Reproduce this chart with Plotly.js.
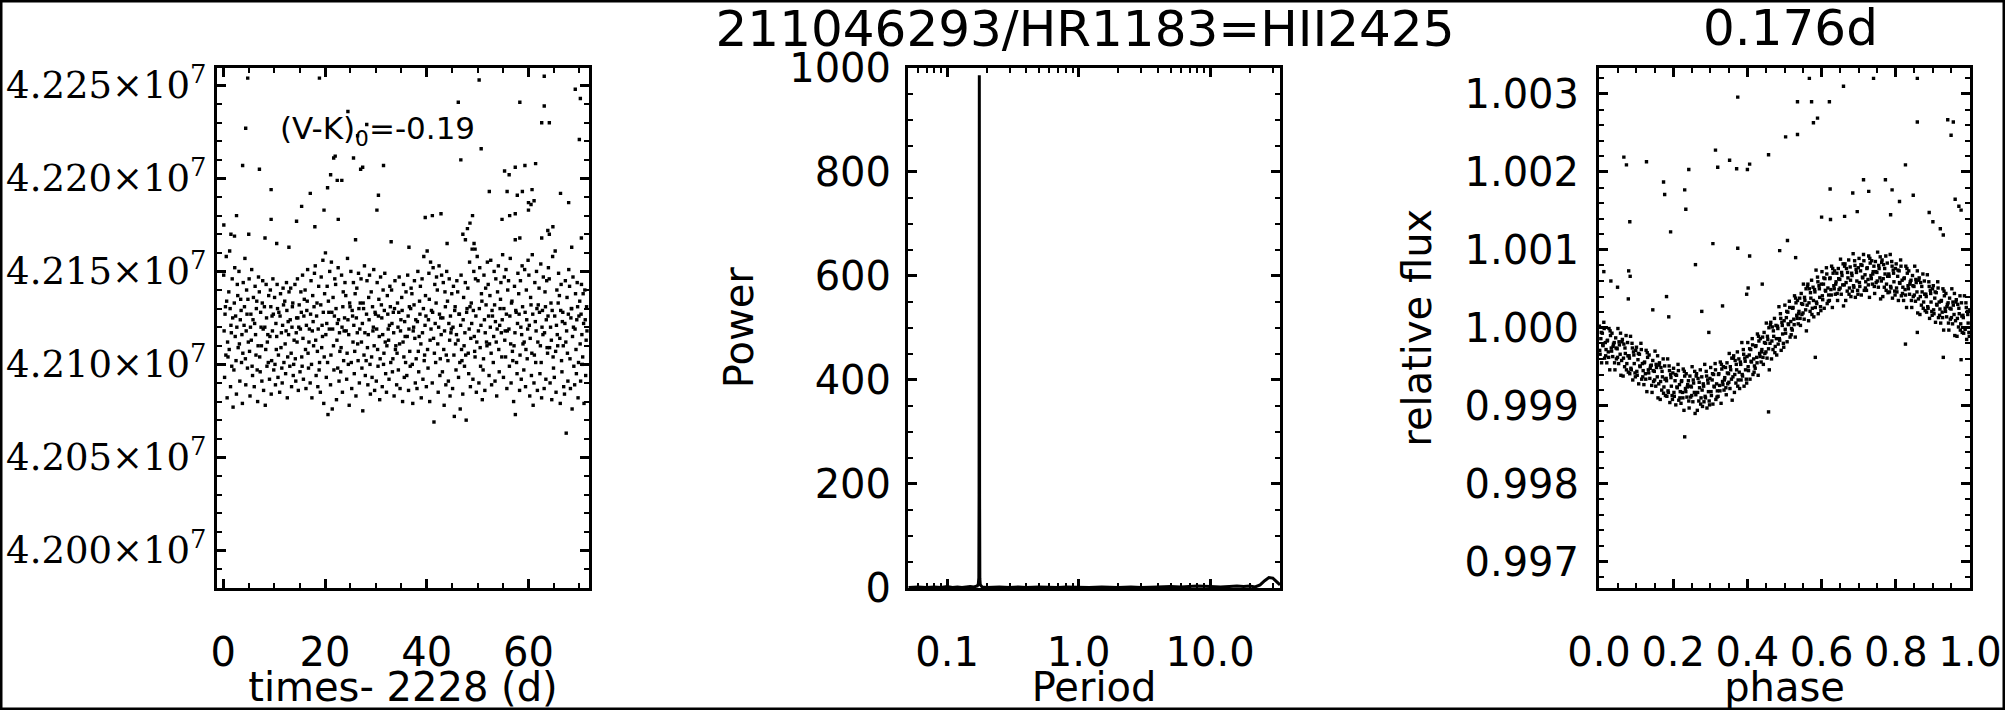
<!DOCTYPE html>
<html>
<head>
<meta charset="utf-8">
<script src="https://cdn.plot.ly/plotly-3.0.1.min.js"></script>
<style>html,body{margin:0;padding:0;background:#fff;}#chart{width:2005px;height:710px;}</style>
</head>
<body>
<div id="chart"></div>
<script>
// ---------------- Panel 1: light curve (flux in units of 1e7) ----------------
const cadenceOffsets = [0.08, 0.25, 0.42, 0.58, 0.75, 0.92];
const lcFluxByDay = [
[4.2148,4.2093,4.2131,4.2158,4.2082,4.2104],
[4.2139,4.2161,4.2088,4.2117,4.2146,4.2077],
[4.2097,4.2152,4.2126,4.2084,4.2143,4.2109],
[4.2150,4.2091,4.2135,4.2101,4.2079,4.2144],
[4.2121,4.2157,4.2089,4.2140,4.2098,4.2112],
[4.2146,4.2083,4.2127,4.2151,4.2094,4.2136],
[4.2088,4.2142,4.2105,4.2134,4.2080,4.2147],
[4.2139,4.2096,4.2120,4.2091,4.2145,4.2086],
[4.2131,4.2078,4.2143,4.2099,4.2116,4.2137],
[4.2092,4.2140,4.2084,4.2126,4.2146,4.2097],
[4.2136,4.2089,4.2108,4.2143,4.2093,4.2128],
[4.2085,4.2138,4.2117,4.2090,4.2141,4.2101],
[4.2134,4.2095,4.2144,4.2082,4.2123,4.2139],
[4.2099,4.2141,4.2088,4.2131,4.2094,4.2113],
[4.2143,4.2091,4.2125,4.2146,4.2086,4.2132],
[4.2096,4.2139,4.2104,4.2148,4.2092,4.2135],
[4.2140,4.2087,4.2129,4.2151,4.2098,4.2119],
[4.2090,4.2145,4.2082,4.2137,4.2110,4.2149],
[4.2153,4.2094,4.2133,4.2088,4.2142,4.2101],
[4.2085,4.2147,4.2121,4.2156,4.2079,4.2138],
[4.2160,4.2093,4.2142,4.2073,4.2128,4.2150],
[4.2089,4.2155,4.2076,4.2136,4.2097,4.2146],
[4.2143,4.2081,4.2122,4.2152,4.2091,4.2107],
[4.2096,4.2148,4.2085,4.2139,4.2118,4.2144],
[4.2137,4.2092,4.2157,4.2100,4.2078,4.2131],
[4.2150,4.2087,4.2126,4.2144,4.2095,4.2138],
[4.2083,4.2141,4.2111,4.2149,4.2090,4.2133],
[4.2146,4.2098,4.2075,4.2130,4.2153,4.2094],
[4.2102,4.2145,4.2089,4.2136,4.2148,4.2084],
[4.2139,4.2093,4.2118,4.2151,4.2086,4.2127],
[4.2091,4.2144,4.2099,4.2135,4.2081,4.2147],
[4.2132,4.2088,4.2140,4.2106,4.2149,4.2095],
[4.2085,4.2137,4.2119,4.2092,4.2142,4.2101],
[4.2140,4.2096,4.2128,4.2083,4.2145,4.2110],
[4.2089,4.2133,4.2097,4.2147,4.2087,4.2124],
[4.2136,4.2080,4.2143,4.2093,4.2115,4.2139],
[4.2094,4.2148,4.2086,4.2131,4.2099,4.2141],
[4.2138,4.2079,4.2120,4.2145,4.2090,4.2103],
[4.2087,4.2150,4.2096,4.2134,4.2142,4.2082],
[4.2146,4.2092,4.2158,4.2105,4.2137,4.2088],
[4.2161,4.2098,4.2149,4.2080,4.2155,4.2129],
[4.2090,4.2152,4.2069,4.2143,4.2101,4.2147],
[4.2140,4.2085,4.2153,4.2094,4.2125,4.2148],
[4.2096,4.2144,4.2078,4.2139,4.2089,4.2150],
[4.2134,4.2091,4.2146,4.2083,4.2117,4.2138],
[4.2087,4.2142,4.2072,4.2131,4.2097,4.2145],
[4.2139,4.2093,4.2127,4.2076,4.2148,4.2102],
[4.2084,4.2136,4.2099,4.2144,4.2070,4.2130],
[4.2141,4.2095,4.2155,4.2088,4.2133,4.2162],
[4.2092,4.2150,4.2107,4.2146,4.2085,4.2158],
[4.2145,4.2090,4.2152,4.2099,4.2138,4.2081],
[4.2097,4.2148,4.2086,4.2141,4.2112,4.2155],
[4.2143,4.2094,4.2137,4.2156,4.2089,4.2126],
[4.2101,4.2150,4.2091,4.2146,4.2083,4.2139],
[4.2153,4.2096,4.2130,4.2144,4.2104,4.2159],
[4.2093,4.2147,4.2118,4.2151,4.2087,4.2140],
[4.2145,4.2099,4.2157,4.2090,4.2134,4.2102],
[4.2080,4.2142,4.2073,4.2128,4.2095,4.2149],
[4.2138,4.2086,4.2145,4.2092,4.2153,4.2111],
[4.2097,4.2151,4.2088,4.2140,4.2103,4.2156],
[4.2148,4.2083,4.2136,4.2094,4.2159,4.2078],
[4.2090,4.2144,4.2101,4.2150,4.2086,4.2132],
[4.2141,4.2095,4.2154,4.2082,4.2129,4.2147],
[4.2087,4.2139,4.2092,4.2145,4.2106,4.2152],
[4.2146,4.2090,4.2133,4.2081,4.2158,4.2098],
[4.2093,4.2161,4.2085,4.2140,4.2110,4.2149],
[4.2137,4.2079,4.2143,4.2096,4.2128,4.2088],
[4.2084,4.2145,4.2063,4.2136,4.2091,4.2151],
[4.2142,4.2087,4.2130,4.2076,4.2147,4.2099],
[4.2089,4.2138,4.2095,4.2144,4.2082,4.2126],
[4.2134,4.2091,4.2143,4.2100,4.2138,4.2079],
[4.2140,4.2094,4.2131]
];
const midOffsets = [0.16, 0.34, 0.5, 0.66, 0.84];
const lcMidFluxByDay = [
[4.2118,4.2127,4.2105,4.2134,4.2112],
[4.2108,4.2130,4.2121,4.2099,4.2125],
[4.2133,4.2115,4.2102,4.2120,4.2137],
[4.2111,4.2124,4.2129,4.2116,4.2106],
[4.2131,4.2103,4.2118,4.2127,4.2135],
[4.2107,4.2120,4.2113,4.2099,4.2124],
[4.2122,4.2116,4.2130,4.2097,4.2110],
[4.2104,4.2128,4.2110,4.2133,4.2119],
[4.2120,4.2108,4.2125,4.2112,4.2101],
[4.2115,4.2131,4.2102,4.2118,4.2127],
[4.2100,4.2122,4.2115,4.2130,4.2105],
[4.2126,4.2109,4.2098,4.2121,4.2132],
[4.2111,4.2118,4.2129,4.2104,4.2116],
[4.2124,4.2106,4.2120,4.2133,4.2100],
[4.2103,4.2117,4.2112,4.2125,4.2120],
[4.2119,4.2128,4.2099,4.2114,4.2126],
[4.2108,4.2121,4.2134,4.2106,4.2112],
[4.2127,4.2100,4.2118,4.2123,4.2131],
[4.2113,4.2126,4.2107,4.2119,4.2097],
[4.2132,4.2109,4.2115,4.2128,4.2104],
[4.2116,4.2122,4.2101,4.2134,4.2119],
[4.2105,4.2128,4.2119,4.2110,4.2126],
[4.2130,4.2113,4.2098,4.2124,4.2117],
[4.2109,4.2120,4.2131,4.2102,4.2125],
[4.2118,4.2106,4.2124,4.2116,4.2133],
[4.2101,4.2129,4.2112,4.2121,4.2107],
[4.2125,4.2117,4.2102,4.2130,4.2119],
[4.2112,4.2122,4.2133,4.2105,4.2117],
[4.2127,4.2109,4.2116,4.2124,4.2100],
[4.2104,4.2131,4.2120,4.2110,4.2128],
[4.2119,4.2108,4.2126,4.2115,4.2103],
[4.2125,4.2116,4.2100,4.2129,4.2112],
[4.2110,4.2127,4.2113,4.2121,4.2131],
[4.2122,4.2103,4.2117,4.2130,4.2108],
[4.2106,4.2120,4.2128,4.2111,4.2118],
[4.2129,4.2112,4.2104,4.2123,4.2101],
[4.2115,4.2126,4.2119,4.2107,4.2130],
[4.2100,4.2118,4.2132,4.2114,4.2124],
[4.2123,4.2107,4.2115,4.2127,4.2111],
[4.2117,4.2130,4.2102,4.2121,4.2126],
[4.2108,4.2124,4.2135,4.2113,4.2119],
[4.2128,4.2114,4.2106,4.2122,4.2133],
[4.2111,4.2120,4.2127,4.2103,4.2116],
[4.2125,4.2108,4.2118,4.2131,4.2105],
[4.2102,4.2122,4.2113,4.2126,4.2119],
[4.2120,4.2105,4.2129,4.2111,4.2116],
[4.2113,4.2127,4.2101,4.2121,4.2108],
[4.2124,4.2110,4.2117,4.2105,4.2128],
[4.2106,4.2119,4.2131,4.2114,4.2122],
[4.2129,4.2115,4.2104,4.2126,4.2112],
[4.2118,4.2130,4.2109,4.2121,4.2134],
[4.2103,4.2124,4.2117,4.2132,4.2110],
[4.2126,4.2111,4.2120,4.2106,4.2129],
[4.2115,4.2132,4.2123,4.2112,4.2119],
[4.2108,4.2121,4.2135,4.2117,4.2124],
[4.2130,4.2113,4.2104,4.2127,4.2118],
[4.2119,4.2126,4.2111,4.2133,4.2107],
[4.2110,4.2117,4.2129,4.2101,4.2122],
[4.2127,4.2105,4.2120,4.2116,4.2131],
[4.2112,4.2128,4.2108,4.2124,4.2119],
[4.2121,4.2114,4.2132,4.2106,4.2127],
[4.2105,4.2123,4.2118,4.2130,4.2112],
[4.2128,4.2110,4.2101,4.2120,4.2116],
[4.2117,4.2131,4.2124,4.2109,4.2126],
[4.2109,4.2120,4.2113,4.2129,4.2104],
[4.2126,4.2107,4.2121,4.2116,4.2133],
[4.2114,4.2129,4.2102,4.2123,4.2110],
[4.2122,4.2112,4.2118,4.2106,4.2127],
[4.2103,4.2125,4.2130,4.2115,4.2120],
[4.2119,4.2108,4.2124,4.2131,4.2101],
[4.2111,4.2127,4.2116,4.2104,4.2122],
[4.2124,4.2113,4.2118]
];
const lcOutT = [4.8,18.9,4.4,24.5,28.2,26.4,22.0,21.7,25.6,3.8,7.1,27.4,27.0,31.5,21.1,22.4,23.3,20.5,9.4,17.1,30.5,15.4,19.8,30.2,2.6,9.4,14.4,22.6,18.0,0.1,1.5,2.2,39.7,41.1,42.8,46.7,50.3,46.2,50.7,52.3,55.3,56.2,57.4,59.3,61.4,55.8,57.8,58.8,60.7,66.3,60.0,67.9,58.3,63.1,62.6,64.1,63.1,69.2,70.2,70.0,70.4,64.8,64.1,62.6,63.8,54.8,56.3,57.4,60.0,60.5,61.1,47.1,48.0,47.6,49.3,49.5,48.5,49.0,57.4,58.3,10.5,12.9,33.0,36.5,44.0,26.0,68.5,5.0,8.2];
const lcOutF = [4.2254,4.2254,4.2227,4.2236,4.2229,4.2223,4.2212,4.2211,4.2211,4.2207,4.2205,4.2206,4.2205,4.2207,4.2202,4.2199,4.2199,4.2195,4.2194,4.2192,4.2191,4.2185,4.2183,4.2183,4.2180,4.2178,4.2177,4.2178,4.2174,4.2175,4.2170,4.2169,4.2179,4.2180,4.2181,4.2210,4.2253,4.2241,4.2216,4.2193,4.2204,4.2202,4.2206,4.2207,4.2208,4.2193,4.2191,4.2193,4.2194,4.2192,4.2187,4.2187,4.2241,4.2239,4.2230,4.2230,4.2255,4.2248,4.2243,4.2221,4.2168,4.2174,4.2170,4.2168,4.2172,4.2178,4.2180,4.2181,4.2183,4.2186,4.2188,4.2170,4.2173,4.2167,4.2165,4.2162,4.2176,4.2180,4.2167,4.2168,4.2165,4.2163,4.2166,4.2163,4.2165,4.2167,4.2163,4.2170,4.2168];
const lcYTickVals = [4.200,4.205,4.210,4.215,4.220,4.225];
const lcYTickText = ['4.200×10<sup>7</sup>','4.205×10<sup>7</sup>','4.210×10<sup>7</sup>','4.215×10<sup>7</sup>','4.220×10<sup>7</sup>','4.225×10<sup>7</sup>'];

// ---------------- Panel 2: periodogram ----------------
const periods = [0.051,0.06,0.07,0.08,0.09,0.1,0.11,0.12,0.13,0.14,0.15,0.16,0.17,0.173,0.1745,0.1752,0.1757,0.176,0.1764,0.1769,0.1776,0.179,0.185,0.2,0.25,0.3,0.35,0.4,0.5,0.6,0.7,0.8,1.0,1.2,1.5,2,2.5,3,4,5,6,7,8,10,12,14,16,18,20,22,24,26,28,30,32,34];
const power   = [1,2,1,2,1,3,1,2,1,2,3,2,4,8,20,180,640,985,610,170,18,6,2,1,2,1,2,1,2,1,1,2,1,1,2,1,2,1,2,3,2,3,4,3,2,3,4,3,4,2,6,14,20,19,12,6];
const perTickVals = [0.1,1,10];
const perTickText = ['0.1','1.0','10.0'];
const perMinorVals = [0.06,0.07,0.08,0.09,0.2,0.3,0.4,0.5,0.6,0.7,0.8,0.9,2,3,4,5,6,7,8,9,20,30];

// ---------------- Panel 3: phase-folded light curve ----------------
const phaseBins = [0.01,0.03,0.05,0.07,0.09,0.11,0.13,0.15,0.17,0.19,0.21,0.23,0.25,0.27,0.29,0.31,0.33,0.35,0.37,0.39,0.41,0.43,0.45,0.47,0.49,0.51,0.53,0.55,0.57,0.59,0.61,0.63,0.65,0.67,0.69,0.71,0.73,0.75,0.77,0.79,0.81,0.83,0.85,0.87,0.89,0.91,0.93,0.95,0.97,0.99];
const phaseJitter = [-0.009,-0.007,-0.005,-0.003,-0.001,0.001,0.003,0.005,0.007,0.009];
const relFluxByBin = [
[1.00002,0.99966,0.99986,0.99955,0.99993,0.99977,1.00007,0.99961,0.99981,0.99972],
[0.99955,0.99984,0.99969,0.99999,0.99946,0.99990,0.99974,0.99993,0.99963,0.99979],
[0.99981,0.99946,0.99987,0.99960,0.99973,0.99999,0.99954,0.99978,0.99966,0.99939],
[0.99958,0.99985,0.99938,0.99979,0.99950,0.99967,0.99990,0.99954,0.99981,0.99943],
[0.99964,0.99941,0.99989,0.99946,0.99980,0.99933,0.99969,0.99954,0.99942,0.99971],
[0.99975,0.99939,0.99959,0.99928,0.99966,0.99950,0.99980,0.99934,0.99954,0.99945],
[0.99927,0.99956,0.99941,0.99971,0.99918,0.99962,0.99946,0.99965,0.99935,0.99951],
[0.99952,0.99917,0.99958,0.99931,0.99944,0.99970,0.99925,0.99949,0.99937,0.99910],
[0.99928,0.99955,0.99908,0.99949,0.99920,0.99937,0.99960,0.99924,0.99951,0.99913],
[0.99935,0.99912,0.99960,0.99917,0.99951,0.99904,0.99940,0.99925,0.99913,0.99942],
[0.99948,0.99912,0.99932,0.99901,0.99939,0.99923,0.99953,0.99907,0.99927,0.99918],
[0.99903,0.99932,0.99917,0.99947,0.99894,0.99938,0.99922,0.99941,0.99911,0.99927],
[0.99932,0.99897,0.99938,0.99911,0.99924,0.99950,0.99905,0.99929,0.99917,0.99890],
[0.99914,0.99941,0.99894,0.99935,0.99906,0.99923,0.99946,0.99910,0.99937,0.99899],
[0.99928,0.99905,0.99953,0.99910,0.99944,0.99897,0.99933,0.99918,0.99906,0.99935],
[0.99949,0.99913,0.99933,0.99902,0.99940,0.99924,0.99954,0.99908,0.99928,0.99919],
[0.99912,0.99941,0.99926,0.99956,0.99903,0.99947,0.99931,0.99950,0.99920,0.99936],
[0.99949,0.99914,0.99955,0.99928,0.99941,0.99967,0.99922,0.99946,0.99934,0.99907],
[0.99937,0.99964,0.99917,0.99958,0.99929,0.99946,0.99969,0.99933,0.99960,0.99922],
[0.99956,0.99933,0.99981,0.99938,0.99972,0.99925,0.99961,0.99946,0.99934,0.99963],
[0.99981,0.99945,0.99965,0.99934,0.99972,0.99956,0.99986,0.99940,0.99960,0.99951],
[0.99948,0.99977,0.99962,0.99992,0.99939,0.99983,0.99967,0.99986,0.99956,0.99972],
[0.99988,0.99953,0.99994,0.99967,0.99980,1.00006,0.99961,0.99985,0.99973,0.99946],
[0.99980,1.00007,0.99960,1.00001,0.99972,0.99989,1.00012,0.99976,1.00003,0.99965],
[1.00002,0.99979,1.00027,0.99984,1.00018,0.99971,1.00007,0.99992,0.99980,1.00009],
[1.00029,0.99993,1.00013,0.99982,1.00020,1.00004,1.00034,0.99988,1.00008,0.99999],
[0.99997,1.00026,1.00011,1.00041,0.99988,1.00032,1.00016,1.00035,1.00005,1.00021],
[1.00038,1.00003,1.00044,1.00017,1.00030,1.00056,1.00011,1.00035,1.00023,0.99996],
[1.00029,1.00056,1.00009,1.00050,1.00021,1.00038,1.00061,1.00025,1.00052,1.00014],
[1.00049,1.00026,1.00074,1.00031,1.00065,1.00018,1.00054,1.00039,1.00027,1.00056],
[1.00072,1.00036,1.00056,1.00025,1.00063,1.00047,1.00077,1.00031,1.00051,1.00042],
[1.00035,1.00064,1.00049,1.00079,1.00026,1.00070,1.00054,1.00073,1.00043,1.00059],
[1.00070,1.00035,1.00076,1.00049,1.00062,1.00088,1.00043,1.00067,1.00055,1.00028],
[1.00055,1.00082,1.00035,1.00076,1.00047,1.00064,1.00087,1.00051,1.00078,1.00040],
[1.00070,1.00047,1.00095,1.00052,1.00086,1.00039,1.00075,1.00060,1.00048,1.00077],
[1.00089,1.00053,1.00073,1.00042,1.00080,1.00064,1.00094,1.00048,1.00068,1.00059],
[1.00048,1.00077,1.00062,1.00092,1.00039,1.00083,1.00067,1.00086,1.00056,1.00072],
[1.00079,1.00044,1.00085,1.00058,1.00071,1.00097,1.00052,1.00076,1.00064,1.00037],
[1.00060,1.00087,1.00040,1.00081,1.00052,1.00069,1.00092,1.00056,1.00083,1.00045],
[1.00069,1.00046,1.00094,1.00051,1.00085,1.00038,1.00074,1.00059,1.00047,1.00076],
[1.00082,1.00046,1.00066,1.00035,1.00073,1.00057,1.00087,1.00041,1.00061,1.00052],
[1.00035,1.00064,1.00049,1.00079,1.00026,1.00070,1.00054,1.00073,1.00043,1.00059],
[1.00061,1.00026,1.00067,1.00040,1.00053,1.00079,1.00034,1.00058,1.00046,1.00019],
[1.00037,1.00064,1.00017,1.00058,1.00029,1.00046,1.00069,1.00033,1.00060,1.00022],
[1.00043,1.00020,1.00068,1.00025,1.00059,1.00012,1.00048,1.00033,1.00021,1.00050],
[1.00054,1.00018,1.00038,1.00007,1.00045,1.00029,1.00059,1.00013,1.00033,1.00024],
[1.00006,1.00035,1.00020,1.00050,0.99997,1.00041,1.00025,1.00044,1.00014,1.00030],
[1.00032,0.99997,1.00038,1.00011,1.00024,1.00050,1.00005,1.00029,1.00017,0.99990],
[1.00009,1.00036,0.99989,1.00030,1.00001,1.00018,1.00041,1.00005,1.00032,0.99994],
[1.00016,0.99993,1.00041,0.99998,1.00032,0.99985,1.00021,1.00006,0.99994,1.00023]
];
const phaseJitterB = [-0.008,-0.004,0.0,0.004,0.008];
const relFluxByBinB = [
[0.99971,0.99994,0.99978,0.99999,0.99964],
[0.99983,0.99962,0.99996,0.99970,0.99976],
[0.99955,0.99974,0.99962,0.99982,0.99993],
[0.99982,0.99961,0.99974,0.99946,0.99964],
[0.99961,0.99948,0.99974,0.99965,0.99937],
[0.99944,0.99967,0.99951,0.99972,0.99937],
[0.99955,0.99934,0.99968,0.99942,0.99948],
[0.99926,0.99945,0.99933,0.99953,0.99964],
[0.99952,0.99931,0.99944,0.99916,0.99934],
[0.99932,0.99919,0.99945,0.99936,0.99908],
[0.99917,0.99940,0.99924,0.99945,0.99910],
[0.99931,0.99910,0.99944,0.99918,0.99924],
[0.99906,0.99925,0.99913,0.99933,0.99944],
[0.99938,0.99917,0.99930,0.99902,0.99920],
[0.99925,0.99912,0.99938,0.99929,0.99901],
[0.99918,0.99941,0.99925,0.99946,0.99911],
[0.99940,0.99919,0.99953,0.99927,0.99933],
[0.99923,0.99942,0.99930,0.99950,0.99961],
[0.99961,0.99940,0.99953,0.99925,0.99943],
[0.99953,0.99940,0.99966,0.99957,0.99929],
[0.99950,0.99973,0.99957,0.99978,0.99943],
[0.99976,0.99955,0.99989,0.99963,0.99969],
[0.99962,0.99981,0.99969,0.99989,1.00000],
[1.00004,0.99983,0.99996,0.99968,0.99986],
[0.99999,0.99986,1.00012,1.00003,0.99975],
[0.99998,1.00021,1.00005,1.00026,0.99991],
[1.00025,1.00004,1.00038,1.00012,1.00018],
[1.00012,1.00031,1.00019,1.00039,1.00050],
[1.00053,1.00032,1.00045,1.00017,1.00035],
[1.00046,1.00033,1.00059,1.00050,1.00022],
[1.00041,1.00064,1.00048,1.00069,1.00034],
[1.00063,1.00042,1.00076,1.00050,1.00056],
[1.00044,1.00063,1.00051,1.00071,1.00082],
[1.00079,1.00058,1.00071,1.00043,1.00061],
[1.00067,1.00054,1.00080,1.00071,1.00043],
[1.00058,1.00081,1.00065,1.00086,1.00051],
[1.00076,1.00055,1.00089,1.00063,1.00069],
[1.00053,1.00072,1.00060,1.00080,1.00091],
[1.00084,1.00063,1.00076,1.00048,1.00066],
[1.00066,1.00053,1.00079,1.00070,1.00042],
[1.00051,1.00074,1.00058,1.00079,1.00044],
[1.00063,1.00042,1.00076,1.00050,1.00056],
[1.00035,1.00054,1.00042,1.00062,1.00073],
[1.00061,1.00040,1.00053,1.00025,1.00043],
[1.00040,1.00027,1.00053,1.00044,1.00016],
[1.00023,1.00046,1.00030,1.00051,1.00016],
[1.00034,1.00013,1.00047,1.00021,1.00027],
[1.00006,1.00025,1.00013,1.00033,1.00044],
[1.00033,1.00012,1.00025,0.99997,1.00015],
[1.00013,1.00000,1.00026,1.00017,0.99989]
];
const phOutPhase = [0.374,0.535,0.573,0.621,0.567,0.659,0.740,0.858,0.589,0.578,0.535,0.503,0.314,0.457,0.352,0.371,0.320,0.406,0.400,0.067,0.074,0.128,0.242,0.858,0.940,0.955,0.949,0.826,0.772,0.713,0.684,0.727,0.623,0.600,0.624,0.662,0.696,0.790,0.810,0.786,0.847,0.890,0.900,0.920,0.928,0.960,0.970,0.976,0.083,0.174,0.177,0.231,0.234,0.260,0.193,0.307,0.374,0.406,0.508,0.487,0.530,0.013,0.032,0.050,0.080,0.084,0.079,0.182,0.145,0.188,0.277,0.296,0.333,0.402,0.398,0.440,0.231,0.457,0.583,0.826,0.928,0.976,0.858];
const phOutFlux  = [1.00296,1.00290,1.00290,1.00290,1.00320,1.00310,1.00320,1.00320,1.00269,1.00263,1.00248,1.00245,1.00228,1.00222,1.00215,1.00204,1.00206,1.00210,1.00203,1.00219,1.00209,1.00213,1.00203,1.00264,1.00267,1.00264,1.00247,1.00209,1.00190,1.00190,1.00173,1.00175,1.00178,1.00142,1.00139,1.00143,1.00149,1.00177,1.00162,1.00145,1.00170,1.00148,1.00136,1.00127,1.00119,1.00165,1.00156,1.00151,1.00136,1.00187,1.00171,1.00177,1.00152,1.00081,1.00123,1.00108,1.00102,1.00092,1.00112,1.00099,1.00090,1.00072,1.00060,1.00052,1.00073,1.00066,1.00037,1.00040,1.00023,1.00014,1.00021,0.99994,1.00028,1.00051,1.00043,1.00056,0.99860,0.99892,0.99962,0.99979,0.99962,0.99959,0.99994];
const phXTickVals = [0,0.2,0.4,0.6,0.8,1.0];
const phXTickText = ['0.0','0.2','0.4','0.6','0.8','1.0'];
const phYTickVals = [0.997,0.998,0.999,1.000,1.001,1.002,1.003];
const phYTickText = ['0.997','0.998','0.999','1.000','1.001','1.002','1.003'];

// ---------------- build traces ----------------
const lcT = [], lcF = [];
lcFluxByDay.forEach((row, d) => row.forEach((f, k) => { lcT.push(d + cadenceOffsets[k]); lcF.push(f); }));
lcMidFluxByDay.forEach((row, d) => row.forEach((f, k) => { lcT.push(d + midOffsets[k]); lcF.push(f); }));
const phX = [], phY = [];
relFluxByBin.forEach((row, b) => row.forEach((v, k) => { phX.push(phaseBins[b] + phaseJitter[k]); phY.push(v); }));
relFluxByBinB.forEach((row, b) => row.forEach((v, k) => { phX.push(phaseBins[b] + phaseJitterB[k]); phY.push(v); }));

const W = 2005, H = 710;
const yDom = [1 - 588 / H, 1 - 67.5 / H];
const dot = {symbol: 'square', size: 3.4, color: 'black', line: {width: 0}};

const traces = [
  {type: 'scatter', mode: 'markers', x: lcT.concat(lcOutT), y: lcF.concat(lcOutF), marker: dot, xaxis: 'x', yaxis: 'y', hoverinfo: 'skip'},
  {type: 'scatter', mode: 'lines', x: periods, y: power, line: {color: 'black', width: 3}, xaxis: 'x2', yaxis: 'y2', hoverinfo: 'skip'},
  {type: 'scatter', mode: 'markers', x: phX.concat(phOutPhase), y: phY.concat(phOutFlux), marker: dot, xaxis: 'x3', yaxis: 'y3', hoverinfo: 'skip'}
];

const sans = 'DejaVu Sans, Arial, sans-serif';
function axisBase(extra) {
  return Object.assign({
    showline: true, linewidth: 3, linecolor: 'black', mirror: 'ticks',
    ticks: 'inside', ticklen: 9, tickwidth: 3, tickcolor: 'black',
    showgrid: false, zeroline: false, fixedrange: true,
    tickfont: {family: sans, size: 40, color: 'black'}
  }, extra);
}

const layout = {
  width: W, height: H,
  margin: {l: 0, r: 0, t: 0, b: 0},
  paper_bgcolor: 'white', plot_bgcolor: 'white',
  showlegend: false,
  font: {family: sans, color: 'black', size: 40},
  title: {text: '211046293/HR1183=HII2425', x: 1085 / W, xanchor: 'center', y: 1 - 28 / H, yanchor: 'middle', font: {family: sans, size: 50, color: 'black'}},
  xaxis: axisBase({
    domain: [217 / W, 589 / W], anchor: 'y', range: [-1.24, 71.9],
    tickmode: 'array', tickvals: [0, 20, 40, 60], ticklabelstandoff: 27,
    minor: {tickmode: 'linear', tick0: 0, dtick: 5, ticks: 'inside', ticklen: 5, tickwidth: 2, tickcolor: 'black', showgrid: false},
    title: {text: 'times- 2228 (d)', standoff: 8, font: {family: sans, size: 40, color: 'black'}}
  }),
  yaxis: axisBase({
    domain: yDom, anchor: 'x', range: [4.19797, 4.22597],
    tickmode: 'array', tickvals: lcYTickVals, ticktext: lcYTickText, ticklabelstandoff: 0,
    tickfont: {family: 'DejaVu Serif, Liberation Serif, serif', size: 37, color: 'black'},
    minor: {tickmode: 'linear', tick0: 4.2, dtick: 0.001, ticks: 'inside', ticklen: 5, tickwidth: 2, tickcolor: 'black', showgrid: false}
  }),
  xaxis2: axisBase({
    domain: [908 / W, 1280 / W], anchor: 'y2', type: 'log', range: [Math.log10(0.0505), Math.log10(34)],
    tickmode: 'array', tickvals: perTickVals, ticktext: perTickText, ticklabelstandoff: 27,
    minor: {tickmode: 'array', tickvals: perMinorVals, ticks: 'inside', ticklen: 5, tickwidth: 2, tickcolor: 'black', showgrid: false},
    title: {text: 'Period', standoff: 8, font: {family: sans, size: 40, color: 'black'}}
  }),
  yaxis2: axisBase({
    domain: yDom, anchor: 'x2', range: [0, 1000],
    tickmode: 'array', tickvals: [0, 200, 400, 600, 800, 1000], ticklabelstandoff: 6,
    minor: {tickmode: 'linear', tick0: 0, dtick: 50, ticks: 'inside', ticklen: 5, tickwidth: 2, tickcolor: 'black', showgrid: false},
    title: {text: 'Power', standoff: 24, font: {family: sans, size: 40, color: 'black'}}
  }),
  xaxis3: axisBase({
    domain: [1599 / W, 1970 / W], anchor: 'y3', range: [0, 1],
    tickmode: 'array', tickvals: phXTickVals, ticktext: phXTickText, ticklabelstandoff: 27,
    minor: {tickmode: 'linear', tick0: 0, dtick: 0.05, ticks: 'inside', ticklen: 5, tickwidth: 2, tickcolor: 'black', showgrid: false},
    title: {text: 'phase', standoff: 8, font: {family: sans, size: 40, color: 'black'}}
  }),
  yaxis3: axisBase({
    domain: yDom, anchor: 'x3', range: [0.99666, 1.00334],
    tickmode: 'array', tickvals: phYTickVals, ticktext: phYTickText, ticklabelstandoff: 9,
    minor: {tickmode: 'linear', tick0: 0.997, dtick: 0.0002, ticks: 'inside', ticklen: 5, tickwidth: 2, tickcolor: 'black', showgrid: false},
    title: {text: 'relative flux', standoff: 21, font: {family: sans, size: 40, color: 'black'}}
  }),
  annotations: [
    {text: '0.176d', xref: 'paper', yref: 'paper', x: 1790 / W, y: 1 - 28 / H, xanchor: 'center', yanchor: 'middle', showarrow: false, font: {family: sans, size: 50, color: 'black'}},
    {text: '(V-K)<sub>0</sub>=-0.19', xref: 'paper', yref: 'paper', x: 278 / W, y: 1 - 131 / H, xanchor: 'left', yanchor: 'middle', showarrow: false, font: {family: sans, size: 31, color: 'black'}}
  ],
  shapes: [
    {type: 'rect', xref: 'paper', yref: 'paper', x0: 1 / W, x1: 1 - 1 / W, y0: 1 / H, y1: 1 - 1 / H, line: {color: 'black', width: 3}, fillcolor: 'rgba(0,0,0,0)'}
  ]
};

Plotly.newPlot('chart', traces, layout, {staticPlot: true, displayModeBar: false});
</script>
</body>
</html>
